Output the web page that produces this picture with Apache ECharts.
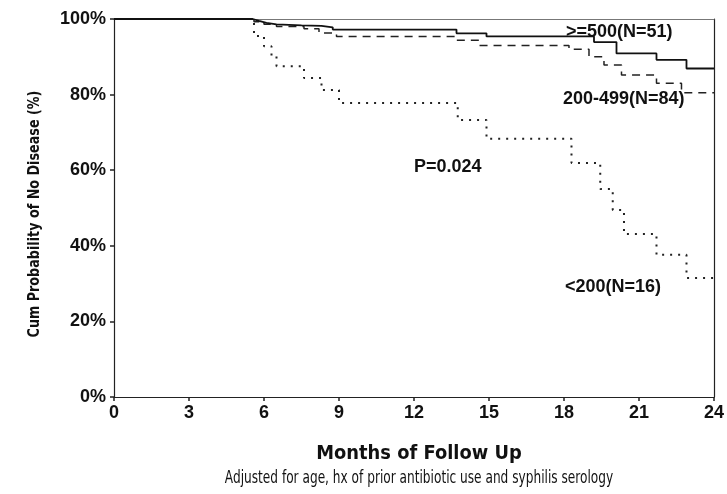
<!DOCTYPE html>
<html>
<head>
<meta charset="utf-8">
<script src="https://cdn.jsdelivr.net/npm/echarts@6/dist/echarts.min.js"></script>
<style>
html,body{margin:0;padding:0;background:#fff;}
#chart{width:727px;height:494px;}
</style>
</head>
<body>
<div id="chart"></div>
<script>
// Months of follow-up (x) and cumulative probability of no disease (%) per group
var ge500Months = [0, 5.55, 5.8, 6.1, 6.5, 7.5, 8.3, 8.75, 13.7, 14.9, 19.2, 20.1, 21.7, 22.9, 24];
var ge500Values = [100, 99.5, 99.0, 98.6, 98.3, 98.2, 97.8, 97.2, 96.2, 95.4, 93.9, 90.9, 89.2, 86.9, 86.9];

var mid200Months = [0, 5.6, 6.0, 6.5, 7.6, 8.2, 8.9, 13.7, 14.6, 18.2, 19.0, 19.6, 20.3, 21.7, 22.7, 24];
var mid200Values = [100, 99.3, 98.6, 98.0, 97.4, 96.3, 95.4, 94.4, 93.0, 92.0, 90.0, 87.8, 85.2, 83.0, 80.5, 80.5];

var lt200Months = [0, 5.6, 6.0, 6.3, 6.5, 7.6, 8.3, 9.0, 13.75, 14.9, 18.3, 19.45, 19.95, 20.4, 21.7, 22.9, 24];
var lt200Values = [100, 95.5, 92.8, 90.2, 87.5, 84.4, 81.2, 77.8, 73.3, 68.3, 61.9, 55.0, 49.5, 43.1, 37.6, 31.5, 31.5];

var xTicks = [0, 3, 6, 9, 12, 15, 18, 21, 24];
var yTicks = [0, 20, 40, 60, 80, 100];

var groupLabels = ['>=500(N=51)', '200-499(N=84)', '<200(N=16)'];
var pValueText = 'P=0.024';
var xTitle = 'Months of Follow Up';
var yTitle = 'Cum Probability of No Disease (%)';
var footnote = 'Adjusted for age, hx of prior antibiotic use and syphilis serology';

function pairs(xs, ys) { return xs.map(function (x, i) { return [x, ys[i]]; }); }

var chart = echarts.init(document.getElementById('chart'), null, {renderer: 'canvas'});
var axisColor = '#222';
var sansFam = 'Liberation Sans, Arial, sans-serif';
var titleFam = 'DejaVu Sans, sans-serif';
var tickFont = {color: '#111', fontSize: 18, fontWeight: 'bold', fontFamily: sansFam};
function ann(text, x, y) {
  return {type: 'text', x: x, y: y, z: 10,
    style: {text: text, fill: '#111', fontSize: 18, fontWeight: 'bold', fontFamily: sansFam,
      align: 'left', verticalAlign: 'middle'}};
}

var option = {
  animation: false,
  backgroundColor: '#fff',
  grid: {left: 114, right: 12, top: 19, bottom: 97},
  xAxis: [{
    type: 'value', min: xTicks[0], max: xTicks[xTicks.length - 1], interval: 3,
    axisLine: {show: true, lineStyle: {color: axisColor, width: 1.2}},
    axisTick: {show: true, length: 4, lineStyle: {color: axisColor, width: 1.5}},
    axisLabel: Object.assign({margin: 7}, tickFont),
    splitLine: {show: false}
  }, {
    type: 'value', position: 'top', min: 0, max: 24,
    axisLine: {show: true, onZero: false, lineStyle: {color: '#777', width: 1}},
    axisTick: {show: false}, axisLabel: {show: false}, splitLine: {show: false}
  }],
  yAxis: [{
    type: 'value', min: yTicks[0], max: yTicks[yTicks.length - 1], interval: 20,
    axisLine: {show: true, lineStyle: {color: axisColor, width: 1.2}},
    axisTick: {show: true, length: 4, lineStyle: {color: axisColor, width: 1.5}},
    axisLabel: Object.assign({margin: 8, formatter: '{value}%'}, tickFont),
    splitLine: {show: false}
  }, {
    type: 'value', position: 'right', min: 0, max: 100,
    axisLine: {show: true, onZero: false, lineStyle: {color: axisColor, width: 1.2}},
    axisTick: {show: false}, axisLabel: {show: false}, splitLine: {show: false}
  }],
  series: [{
    name: groupLabels[0], type: 'line', step: 'end', symbol: 'none',
    data: pairs(ge500Months, ge500Values),
    lineStyle: {color: '#111', width: 1.8, type: 'solid'}, z: 3
  }, {
    name: groupLabels[1], type: 'line', step: 'end', symbol: 'none',
    data: pairs(mid200Months, mid200Values),
    lineStyle: {color: '#222', width: 1.5, type: [8, 6]}, z: 2
  }, {
    name: groupLabels[2], type: 'line', step: 'end', symbol: 'none',
    data: pairs(lt200Months, lt200Values),
    lineStyle: {color: '#222', width: 2, type: [2, 6]}, z: 1
  }],
  graphic: [
    ann(groupLabels[0], 566, 32),
    ann(groupLabels[1], 563, 99),
    ann(pValueText, 414, 167),
    ann(groupLabels[2], 565, 287),
    {type: 'text', x: 35, y: 214, rotation: Math.PI / 2, scaleX: 0.85,
      style: {text: yTitle, fill: '#111', fontSize: 15, fontWeight: 'bold',
        fontFamily: titleFam, align: 'center', verticalAlign: 'middle'}},
    {type: 'text', x: 419, y: 454, scaleX: 0.94,
      style: {text: xTitle, fill: '#111', fontSize: 19, fontWeight: 'bold',
        fontFamily: titleFam, align: 'center', verticalAlign: 'middle'}},
    {type: 'text', x: 419, y: 479, scaleX: 0.715,
      style: {text: footnote, fill: '#111', fontSize: 17,
        fontFamily: titleFam, align: 'center', verticalAlign: 'middle'}}
  ]
};
chart.setOption(option);
</script>
</body>
</html>
